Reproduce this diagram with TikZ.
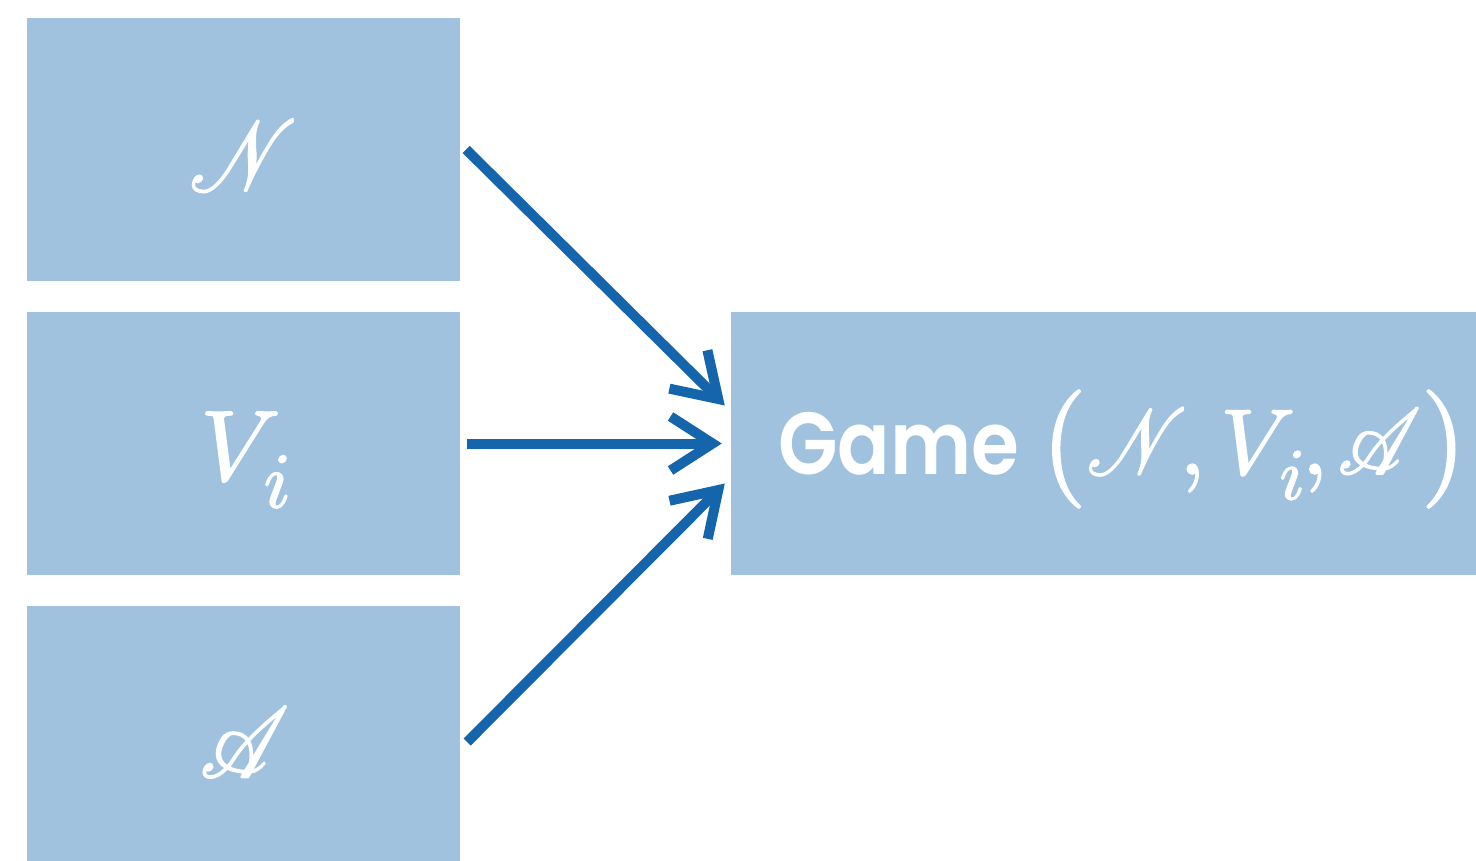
\documentclass[tikz,border=0pt]{standalone}
\usepackage{amsmath}
\usepackage{graphicx}
\usepackage{mathrsfs}
\usepackage{fontspec}
\newfontfamily\gamefont{Poppins SemiBold}[FakeStretch=0.88]
\usetikzlibrary{arrows.meta,calc}
% math fonts drawn from their 10pt designs at every size
\DeclareFontFamily{U}{rsfs}{\skewchar\font127 }
\DeclareFontShape{U}{rsfs}{m}{n}{<->rsfs10}{}
\DeclareFontFamily{OML}{cmm}{\skewchar\font127 }
\DeclareFontShape{OML}{cmm}{m}{it}{<->cmmi10}{}
\DeclareFontFamily{OT1}{cmr}{}
\DeclareFontShape{OT1}{cmr}{m}{n}{<->cmr10}{}
\DeclareFontFamily{OMS}{cmsy}{\skewchar\font48 }
\DeclareFontShape{OMS}{cmsy}{m}{n}{<->cmsy10}{}
\definecolor{boxblue}{RGB}{160,194,222}
\definecolor{arrowblue}{RGB}{21,101,172}
% heavier outline for the thin math glyphs
\newcommand{\heavy}[1]{\special{pdf:literal direct 2 Tr 1.6 w}#1\special{pdf:literal direct 0 Tr}}
% narrow script capital
\newcommand{\scr}[1]{\scalebox{0.86}[1]{$\mathscr{#1}$}}
% large parentheses
\newcommand{\bigpar}[1]{\mathopen{\raisebox{-4.5pt}{\fontsize{118}{120}\selectfont$#1$}}}
\newcommand{\bigparclose}[1]{\mathclose{\raisebox{-4.5pt}{\fontsize{118}{120}\selectfont$#1$}}}
% lowered, slightly reduced index
\newcommand{\lowidx}[1]{\kern-0.17em\raisebox{-0.27em}{\fontsize{0.78em}{0.8em}\selectfont$#1$}}
\begin{document}
\begin{tikzpicture}[x=1pt,y=-1pt,
  box/.style={fill=boxblue, draw=none, inner sep=0pt,
    minimum width=433pt, minimum height=263pt},
  boxtext/.style={text=white, inner sep=0pt,
    font=\fontsize{100}{110}\selectfont},
  flow/.style={draw=arrowblue, line width=10pt,
    -{Straight Barb[length=42pt,width=54pt]}}]
\useasboundingbox (0,0) rectangle (1476,860);
\clip (0,0) rectangle (1476,860);
% input boxes
\node[box] (N) at (243.5,149.5) {};
\node[box] (V) at (243.5,443.5) {};
\node[box] (A) at (243.5,737.5) {};
\node[boxtext] (Nt) at ($(N.center)+(0,6)$) {\heavy{$\scr{N}$}};
\node[boxtext] (Vt) at ($(V.center)+(2,16)$) {\heavy{$V\lowidx{i}$}};
\node[boxtext] (At) at ($(A.center)+(1,5)$) {\heavy{$\scr{A}$}};
% result box
\node[box, minimum width=745pt] (game) at (1103.5,443.5) {};
\node[text=white, inner sep=0pt, anchor=base west] (gametext) at (778,474)
  {\gamefont\fontsize{88}{90}\selectfont Game\hspace{22pt}{\fontsize{93}{100}\selectfont
   \heavy{$\bigpar(\scr{N}\kern-8pt,V\lowidx{i}\kern-3pt,\kern-5pt\scr{A}\bigparclose)$}}};
% connectors
\draw[flow] ($(N.east)+(6,0)$) -- ($(game.west)+(-6,-38)$);
\draw[flow] ($(V.east)+(7,0)$) -- ($(game.west)+(-9,0)$);
\draw[flow] ($(A.east)+(7,4.5)$) -- ($(game.west)+(-6,40)$);
\end{tikzpicture}
\end{document}
